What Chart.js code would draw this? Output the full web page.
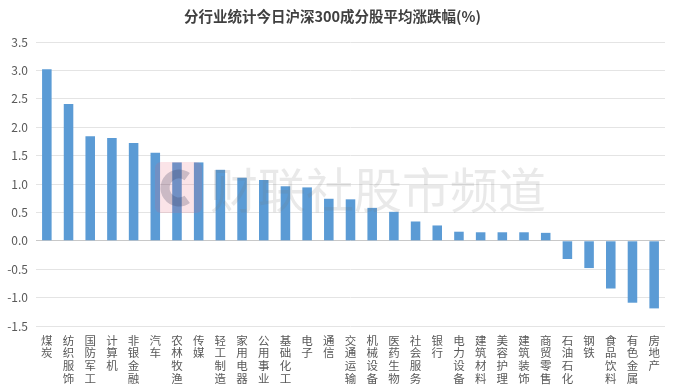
<!DOCTYPE html>
<html>
<head>
<meta charset="utf-8">
<script src="https://cdn.jsdelivr.net/npm/chart.js"></script>
<style>
  html, body { margin: 0; padding: 0; background: #fff; }
  #wrap { width: 692px; height: 388px; }
</style>
</head>
<body>
<div id="wrap"><canvas id="chg" width="692" height="388"></canvas></div>
<script>
// 行业名称
var industries = ['煤炭','纺织服饰','国防军工','计算机','非银金融','汽车','农林牧渔','传媒','轻工制造','家用电器',
  '公用事业','基础化工','电子','通信','交通运输','机械设备','医药生物','社会服务','银行','电力设备',
  '建筑材料','美容护理','建筑装饰','商贸零售','石油石化','钢铁','食品饮料','有色金属','房地产'];
// 平均涨跌幅(%)
var avgChange = [3.02, 2.41, 1.84, 1.81, 1.72, 1.55, 1.38, 1.38, 1.25, 1.11,
  1.07, 0.96, 0.94, 0.74, 0.73, 0.58, 0.51, 0.34, 0.27, 0.16,
  0.15, 0.15, 0.15, 0.14, -0.32, -0.48, -0.84, -1.09, -1.19];
var yMin = -1.5, yMax = 3.5, yStep = 0.5;

var font = '"Noto Sans CJK SC", "Microsoft YaHei", sans-serif';

// 水印
var watermark = {
  id: 'watermark',
  afterDatasetsDraw: function(chart) {
    var c = chart.ctx;
    c.save();
    c.fillStyle = 'rgba(230,90,110,0.16)';
    c.beginPath();
    if (c.roundRect) c.roundRect(155, 162, 47, 51, 6); else c.rect(155, 162, 47, 51);
    c.fill();
    c.strokeStyle = 'rgba(60,60,90,0.25)';
    c.lineWidth = 9;
    c.beginPath();
    c.arc(179, 188, 14, 0.3 * Math.PI, 1.7 * Math.PI);
    c.stroke();
    c.fillStyle = 'rgba(120,120,120,0.16)';
    c.font = '48px ' + font;
    c.textBaseline = 'middle';
    c.fillText('财联社股市频道', 210, 190);
    c.restore();
  }
};

var ctx = document.getElementById('chg').getContext('2d');
var chart = new Chart(ctx, {
  type: 'bar',
  data: {
    labels: industries.map(function(s) { return s.split(''); }),
    datasets: [{
      data: avgChange,
      backgroundColor: '#5b9bd5',
      borderWidth: 0,
      categoryPercentage: 1,
      barPercentage: 0.44
    }]
  },
  options: {
    responsive: false,
    animation: false,
    layout: { padding: { left: 0, right: 27, top: 0, bottom: 0 } },
    plugins: {
      legend: { display: false },
      tooltip: { enabled: false },
      title: {
        display: true,
        text: '分行业统计今日沪深300成分股平均涨跌幅(%)',
        color: '#404040',
        font: { family: font, size: 14.5, weight: 'bold', lineHeight: 1.2 },
        padding: { top: 8, bottom: 16.6 }
      }
    },
    scales: {
      x: {
        grid: { display: false },
        border: { display: false },
        ticks: {
          color: '#595959',
          font: { family: font, size: 11.5, lineHeight: 1.1 },
          maxRotation: 0, minRotation: 0, autoSkip: false, padding: 0
        },
        afterFit: function(s) { s.height = 62; }
      },
      y: {
        min: yMin, max: yMax,
        grid: {
          color: function(c) { return c.tick && c.tick.value === 0 ? '#c8c8c8' : '#e4e4e4'; },
          drawTicks: false
        },
        border: { display: false },
        ticks: {
          stepSize: yStep,
          color: '#595959',
          font: { family: font, size: 12 },
          padding: 8,
          callback: function(v) { return v.toFixed(1); }
        },
        afterFit: function(s) { s.width = 36; }
      }
    }
  },
  plugins: [watermark]
});
</script>
</body>
</html>
